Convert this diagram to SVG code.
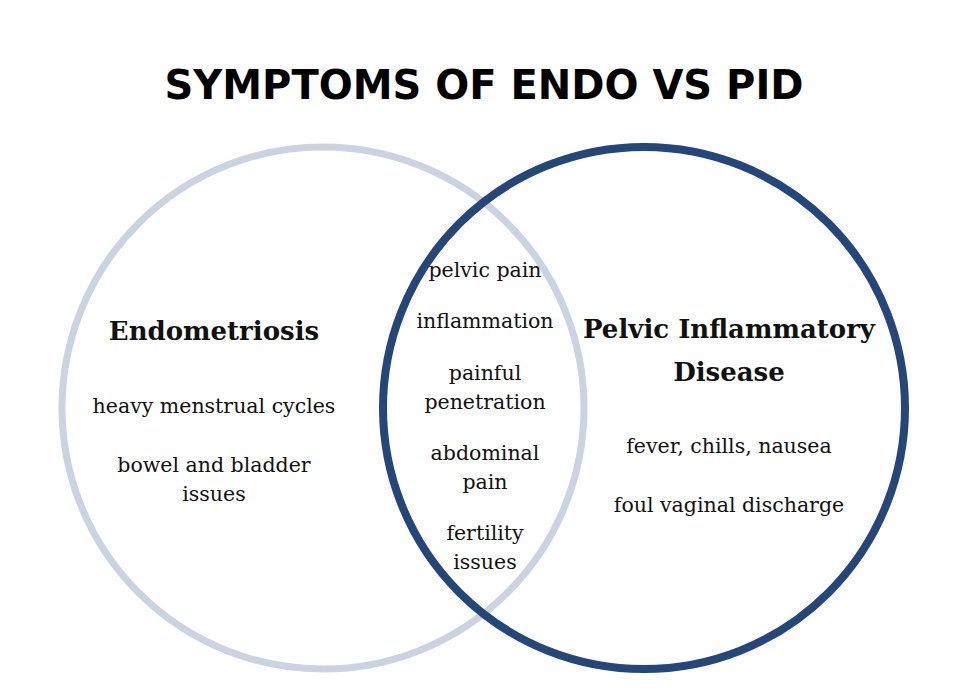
<svg xmlns="http://www.w3.org/2000/svg" width="968" height="692" viewBox="0 0 968 692">
<style>
.title{font-family:"DejaVu Sans",Verdana,sans-serif;font-weight:bold;font-size:40px;fill:#000;text-anchor:middle}
.head{font-family:"DejaVu Serif","Liberation Serif",serif;font-weight:bold;font-size:26px;fill:#111;text-anchor:middle}
.item{font-family:"DejaVu Serif","Liberation Serif",serif;font-size:20.5px;fill:#111;text-anchor:middle}
.c{fill:none}
</style>
<rect width="968" height="692" fill="#fff"/>
<text class="title" x="484" y="99">SYMPTOMS OF ENDO VS PID</text>
<g id="connectors"></g>
<g id="endo">
<circle class="c" cx="323" cy="408" r="261" stroke="#cbd3e1" stroke-width="7"/>
<text class="head" x="214" y="340">Endometriosis</text>
<text class="item" x="214" y="413">heavy menstrual cycles</text>
<text class="item" x="214" y="472">bowel and bladder</text>
<text class="item" x="214" y="501">issues</text>
</g>
<g id="pid">
<circle class="c" cx="644" cy="408" r="261" stroke="#24467b" stroke-width="8"/>
<text class="head" x="729" y="338">Pelvic Inflammatory</text>
<text class="head" x="729" y="381">Disease</text>
<text class="item" x="729" y="453">fever, chills, nausea</text>
<text class="item" x="729" y="512">foul vaginal discharge</text>
</g>
<g id="shared">
<text class="item" x="485" y="277">pelvic pain</text>
<text class="item" x="485" y="328">inflammation</text>
<text class="item" x="485" y="380">painful</text>
<text class="item" x="485" y="409">penetration</text>
<text class="item" x="485" y="460">abdominal</text>
<text class="item" x="485" y="489">pain</text>
<text class="item" x="485" y="540">fertility</text>
<text class="item" x="485" y="569">issues</text>
</g>
</svg>
